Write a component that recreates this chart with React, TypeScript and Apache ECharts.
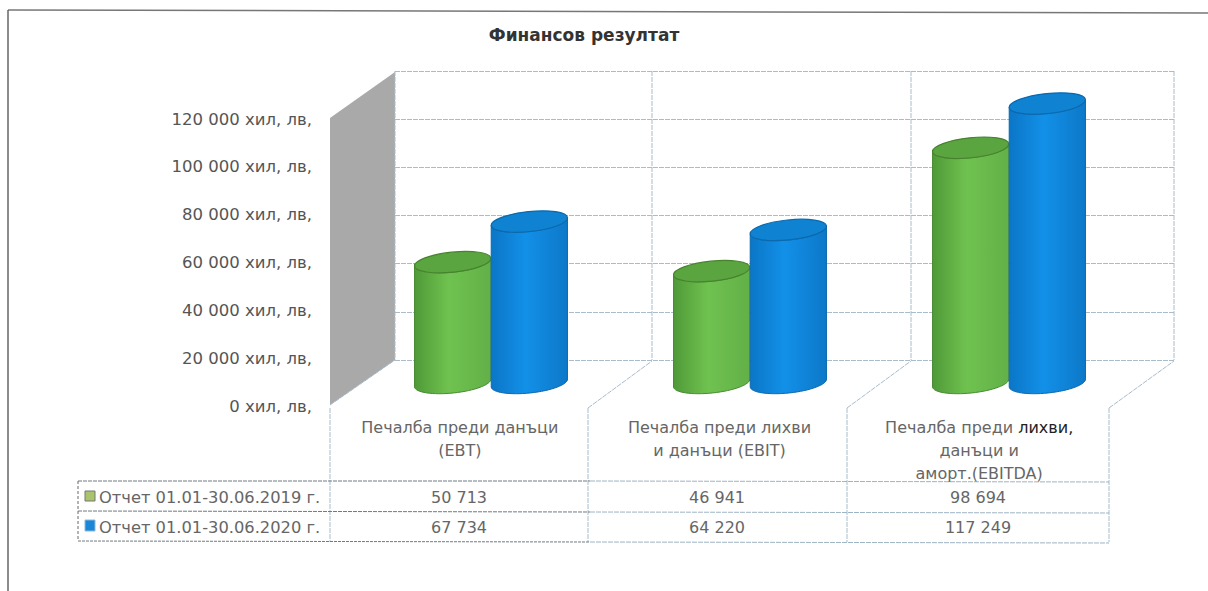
import React, { useEffect, useRef } from "react";
import * as echarts from "echarts";

const title = "Финансов резултат";
const categories = [
  "Печалба преди данъци\n(EBT)",
  "Печалба преди лихви\nи данъци (EBIT)",
  "Печалба преди лихви,\nданъци и\nаморт.(EBITDA)",
];
const seriesNames = ["Отчет 01.01-30.06.2019 г.", "Отчет 01.01-30.06.2020 г."];
const values2019 = [50713, 46941, 98694];
const values2020 = [67734, 64220, 117249];
const tableRows2019 = ["50 713", "46 941", "98 694"];
const tableRows2020 = ["67 734", "64 220", "117 249"];
const yTicks = [0, 20000, 40000, 60000, 80000, 100000, 120000];

const FONT = "'DejaVu Sans', Verdana, sans-serif";
const GRID_LINE = "#a8bccb";
const TEXT = "#666666";
const TILT = 6; // degrees
const KAPPA = 0.5523;

const fmtTick = (v: number) => {
  const s = String(v).replace(/\B(?=(\d{3})+$)/g, " ");
  return `${s} хил, лв,`;
};

function cylinder(colors: { edge: string; mid: string; edge2: string; top: string; rim: string; stroke: string }, sign: number) {
  return (_params: any, api: any) => {
    const cat = api.value(0);
    const val = api.value(1);
    const pt = api.coord([cat, val]);
    const base = api.coord([cat, 0]);
    const band = api.size([1, 0])[0];
    const rx = band * 0.148;
    const ry = 10;
    const cx = pt[0] + sign * rx;
    const a = (TILT * Math.PI) / 180;
    // local ellipse coordinates (u along the tilted major axis) to page coordinates
    const p = (cy: number, u: number, v: number) =>
      `${cx + u * Math.cos(a) + v * Math.sin(a)} ${cy - u * Math.sin(a) + v * Math.cos(a)}`;
    // half ellipse from the left end to the right end; dir = 1 lower half, -1 upper half
    const halfLR = (cy: number, dir: number) =>
      `C ${p(cy, -rx, dir * KAPPA * ry)} ${p(cy, -KAPPA * rx, dir * ry)} ${p(cy, 0, dir * ry)} ` +
      `C ${p(cy, KAPPA * rx, dir * ry)} ${p(cy, rx, dir * KAPPA * ry)} ${p(cy, rx, 0)}`;
    // half ellipse from the right end to the left end
    const halfRL = (cy: number, dir: number) =>
      `C ${p(cy, rx, dir * KAPPA * ry)} ${p(cy, KAPPA * rx, dir * ry)} ${p(cy, 0, dir * ry)} ` +
      `C ${p(cy, -KAPPA * rx, dir * ry)} ${p(cy, -rx, dir * KAPPA * ry)} ${p(cy, -rx, 0)}`;
    const body = [
      `M ${p(pt[1], -rx, 0)}`,
      `L ${p(base[1], -rx, 0)}`,
      halfLR(base[1], 1),
      `L ${p(pt[1], rx, 0)}`,
      halfRL(pt[1], 1),
      "Z",
    ].join(" ");
    const top = [`M ${p(pt[1], -rx, 0)}`, halfLR(pt[1], -1), halfRL(pt[1], 1), "Z"].join(" ");
    return {
      type: "group",
      children: [
        {
          type: "path",
          shape: { pathData: body },
          style: {
            fill: new echarts.graphic.LinearGradient(0, 0, 1, 0, [
              { offset: 0, color: colors.edge },
              { offset: 0.45, color: colors.mid },
              { offset: 1, color: colors.edge2 },
            ]),
            stroke: colors.stroke,
            lineWidth: 1,
          },
        },
        {
          type: "path",
          shape: { pathData: top },
          style: { fill: colors.top, stroke: colors.rim, lineWidth: 1.2 },
        },
      ],
    };
  };
}

function line(x1: number, y1: number, x2: number, y2: number, stroke: string, lineDash: number[] | null = [5, 1], lineWidth = 1) {
  return {
    type: "line",
    silent: true,
    shape: { x1, y1, x2, y2 },
    style: { stroke, lineWidth, lineDash: lineDash || undefined },
  };
}

function label(text: string, x: number, y: number, align: string = "center", size = 16) {
  return {
    type: "text",
    silent: true,
    x,
    y,
    style: { text, fill: TEXT, font: `${size}px ${FONT}`, textAlign: align, textVerticalAlign: "middle" },
  };
}

export default function App() {
  const ref = useRef<HTMLDivElement>(null);
  useEffect(() => {
    const chart = echarts.init(ref.current!, null, { renderer: "svg" });
    const colEdges = [330, 588, 847, 1109];
    const colCenters = [459, 717, 978];
    const rowY = [497, 527];
    const tableDark = "#6f7a80";
    const tableLight = "#9fb4c3";
    const graphic: any[] = [
      // scan frame
      line(8, 10, 1208, 13, "#777777", null, 1.5),
      line(8, 10, 8, 591, "#666666", null, 1.5),
      // left wall
      {
        type: "polygon",
        silent: true,
        shape: { points: [[330, 118], [395, 72], [395, 360], [330, 405]] },
        style: { fill: "#a9a9a9" },
      },
      // back wall dividers
      line(395, 71, 395, 360, GRID_LINE),
      line(652, 71, 652, 360, GRID_LINE),
      line(911, 71, 911, 360, GRID_LINE),
      line(1174, 71, 1174, 360, GRID_LINE),
      // floor edges
      line(330, 405, 395, 360, GRID_LINE),
      line(588, 408, 652, 361, GRID_LINE),
      line(847, 408, 911, 361, GRID_LINE),
      line(1109, 408, 1174, 361, GRID_LINE),
      // table verticals
      ...colEdges.map((x) => line(x, 408, x, 542, GRID_LINE)),
      // table horizontals
      line(78, 481, 590, 481, tableDark, [4, 1]),
      line(590, 481, 1109, 482, tableLight),
      line(78, 511, 590, 512, tableDark, [4, 1]),
      line(590, 512, 1109, 513, tableLight),
      line(78, 541, 590, 542, tableDark, [3, 1]),
      line(590, 542, 1109, 543, tableLight),
      line(78, 481, 78, 541, "#666666", [3, 2]),
      // legend keys
      {
        type: "rect",
        silent: true,
        shape: { x: 85, y: 491, width: 10, height: 10 },
        style: { fill: "#a9c46c", stroke: "#777777", lineWidth: 1 },
      },
      {
        type: "rect",
        silent: true,
        shape: { x: 85, y: 520, width: 10, height: 11 },
        style: { fill: "#1a86d8", stroke: "#8fb8d8", lineWidth: 1 },
      },
      label(seriesNames[0], 99, rowY[0], "left", 16.3),
      label(seriesNames[1], 99, rowY[1], "left", 16.3),
      ...tableRows2019.map((t, i) => label(t, colCenters[i], rowY[0])),
      ...tableRows2020.map((t, i) => label(t, colCenters[i], rowY[1])),
    ];

    chart.setOption({
      animation: false,
      backgroundColor: "#ffffff",
      title: {
        text: title,
        left: 579,
        top: 21,
        textAlign: "center",
        textStyle: { fontFamily: FONT, fontSize: 17, fontWeight: "bold", color: "#333333" },
      },
      graphic,
      grid: [
        { left: 395, top: 71, width: 779, height: 289 },
        { left: 330, top: 119, width: 779, height: 287 },
        { left: 361.5, top: 97, width: 777, height: 286 },
      ],
      xAxis: [
        {
          gridIndex: 0,
          type: "category",
          data: categories,
          axisLine: { show: false },
          axisTick: { show: false },
          axisLabel: { show: false },
          splitLine: { show: false },
        },
        {
          gridIndex: 1,
          type: "category",
          data: categories,
          axisLine: { show: false },
          axisTick: { show: false },
          splitLine: { show: false },
          axisLabel: {
            interval: 0,
            margin: 10,
            color: TEXT,
            fontFamily: FONT,
            fontSize: 16,
            lineHeight: 23,
            align: "center",
            verticalAlign: "top",
            formatter: (v: string) => v.replace("лихви,", "{d|лихви,}"),
            rich: {
              d: { color: "#222222", fontFamily: FONT, fontSize: 16, lineHeight: 23 },
            },
          },
        },
        {
          gridIndex: 2,
          type: "category",
          data: categories,
          show: false,
        },
      ],
      yAxis: [
        {
          gridIndex: 0,
          type: "value",
          min: 0,
          max: 120000,
          interval: 20000,
          axisLine: { show: false },
          axisTick: { show: false },
          axisLabel: { show: false },
          splitLine: { show: true, lineStyle: { color: GRID_LINE, type: [5, 1] } },
        },
        {
          gridIndex: 1,
          type: "value",
          min: yTicks[0],
          max: yTicks[yTicks.length - 1],
          interval: yTicks[1] - yTicks[0],
          axisLine: { show: false },
          axisTick: { show: false },
          splitLine: { show: false },
          axisLabel: {
            margin: 18,
            color: "#555555",
            fontFamily: FONT,
            fontSize: 16.5,
            formatter: fmtTick,
          },
        },
        {
          gridIndex: 2,
          type: "value",
          min: 0,
          max: 120000,
          interval: 20000,
          show: false,
        },
      ],
      series: [
        {
          type: "custom",
          name: seriesNames[0],
          xAxisIndex: 2,
          yAxisIndex: 2,
          z: 5,
          encode: { x: 0, y: 1 },
          data: values2019.map((v, i) => [i, v]),
          renderItem: cylinder(
            { edge: "#4f9a38", mid: "#6fc24f", edge2: "#62b048", top: "#5aa53f", rim: "#47832f", stroke: "#4a8a34" },
            -1,
          ),
        },
        {
          type: "custom",
          name: seriesNames[1],
          xAxisIndex: 2,
          yAxisIndex: 2,
          z: 6,
          encode: { x: 0, y: 1 },
          data: values2020.map((v, i) => [i, v]),
          renderItem: cylinder(
            { edge: "#0b76c6", mid: "#1290e8", edge2: "#0d78c8", top: "#0f82d2", rim: "#0b69ad", stroke: "#0b69ad" },
            1,
          ),
        },
      ],
    });
    return () => chart.dispose();
  }, []);
  return <div ref={ref} style={{ position: "fixed", left: 0, top: 0, width: 1208, height: 591 }} />;
}
